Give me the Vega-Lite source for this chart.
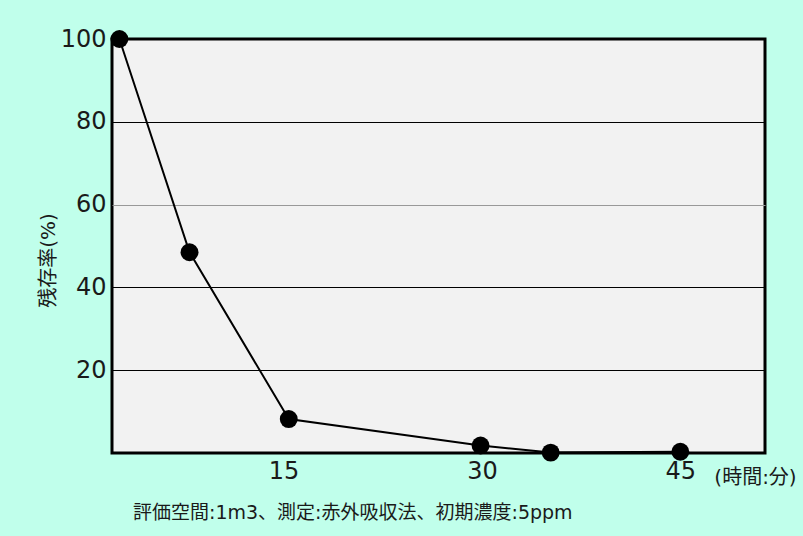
{
  "$schema": "https://vega.github.io/schema/vega-lite/v6.json",
  "autosize": {"type": "none"},
  "width": 653,
  "height": 414,
  "padding": {"left": 112, "top": 39, "right": 38, "bottom": 83},
  "background": "#c0ffeb",
  "config": {
    "view": {"fill": "#f2f2f2", "stroke": "#000000", "strokeWidth": 3},
    "font": "DejaVu Sans, Noto Sans CJK JP"
  },
  "title": {
    "text": "評価空間:1m3、測定:赤外吸収法、初期濃度:5ppm",
    "orient": "bottom",
    "anchor": "start",
    "frame": "group",
    "dx": 21,
    "offset": 17,
    "fontSize": 19,
    "fontWeight": "normal",
    "color": "#1a1a1a",
    "font": "DejaVu Sans, Noto Sans CJK JP"
  },
  "data": {
    "values": [
      {"time": 2.6, "rate": 100},
      {"time": 7.9, "rate": 48.5},
      {"time": 15.4, "rate": 8.2},
      {"time": 29.9, "rate": 1.8},
      {"time": 35.2, "rate": 0.1},
      {"time": 45, "rate": 0.3}
    ]
  },
  "layer": [
    {
      "mark": {"type": "line", "color": "#000000", "strokeWidth": 2},
      "encoding": {
        "x": {
          "field": "time", "type": "quantitative",
          "scale": {"domain": [2.04, 51.4], "nice": false, "zero": false},
          "axis": {
            "values": [15, 30, 45],
            "grid": false, "ticks": false, "domain": false,
            "labelFontSize": 24, "labelPadding": 6, "labelColor": "#1a1a1a",
            "labelFont": "DejaVu Sans",
            "title": "(時間:分)", "titleFontSize": 20, "titleFontWeight": "normal",
            "titleColor": "#1a1a1a", "titleX": 643, "titleY": 24, "titleAlign": "center",
            "titleBaseline": "middle"
          }
        },
        "y": {
          "field": "rate", "type": "quantitative",
          "scale": {"domain": [0, 100], "nice": false},
          "axis": {
            "values": [20, 40, 60, 80, 100],
            "ticks": false, "domain": false,
            "gridColor": {"condition": {"test": "datum.value === 60", "value": "#999999"}, "value": "#000000"},
            "gridWidth": 1,
            "labelFontSize": 24, "labelPadding": 6, "labelColor": "#1a1a1a",
            "labelFont": "DejaVu Sans",
            "title": "残存率(%)", "titleFontSize": 20, "titleFontWeight": "normal",
            "titleColor": "#1a1a1a", "titleX": -64, "titleY": 221,
            "titleAlign": "center", "titleBaseline": "middle", "titleAngle": -90
          }
        }
      }
    },
    {
      "mark": {"type": "point", "filled": true, "color": "#000000", "opacity": 1, "size": 320},
      "encoding": {
        "x": {"field": "time", "type": "quantitative"},
        "y": {"field": "rate", "type": "quantitative"}
      }
    }
  ]
}
